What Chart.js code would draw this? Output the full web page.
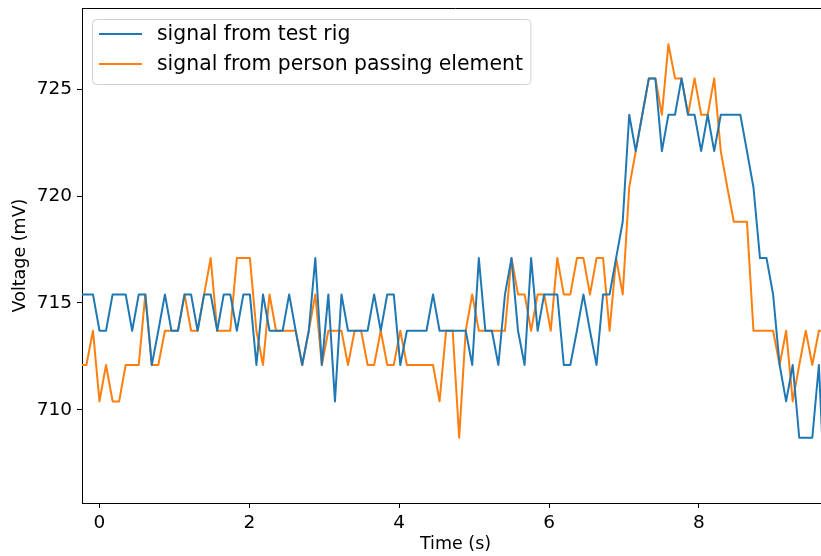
<!DOCTYPE html>
<html><head><meta charset="utf-8">
<script src="https://cdn.jsdelivr.net/npm/chart.js@4.4.1/dist/chart.umd.min.js"></script>
<style>html,body{margin:0;padding:0;background:#fff;overflow:hidden;width:821px;height:556px}canvas{display:block}</style>
</head><body>
<canvas id="c" width="830" height="556"></canvas>
<script>
// sample times (s)
const timeSeconds = [
 -0.262,-0.175,-0.087,0,0.087,0.175,0.262,0.349,0.436,0.524,
 0.611,0.698,0.785,0.873,0.960,1.047,1.135,1.222,1.309,1.396,
 1.484,1.571,1.658,1.745,1.833,1.920,2.007,2.094,2.182,2.269,
 2.356,2.444,2.531,2.618,2.705,2.793,2.880,2.967,3.054,3.142,
 3.229,3.316,3.404,3.491,3.578,3.665,3.753,3.840,3.927,4.014,
 4.102,4.189,4.276,4.364,4.451,4.538,4.625,4.713,4.800,4.887,
 4.974,5.062,5.149,5.236,5.323,5.411,5.498,5.585,5.673,5.760,
 5.847,5.934,6.022,6.109,6.196,6.283,6.371,6.458,6.545,6.633,
 6.720,6.807,6.894,6.982,7.069,7.156,7.243,7.331,7.418,7.505,
 7.592,7.680,7.767,7.854,7.941,8.029,8.116,8.203,8.291,8.378,
 8.465,8.552,8.640,8.727,8.814,8.901,8.989,9.076,9.163,9.251,
 9.338,9.425,9.512,9.600,9.687];

// signal from test rig (mV)
const testRigMv = [
 715.4,715.4,715.4,
 713.7,713.7,715.4,715.4,715.4,713.7,715.4,715.4,712.1,713.7,
 715.4,713.7,713.7,715.4,715.4,713.7,715.4,715.4,713.7,715.4,
 715.4,713.7,715.4,715.4,712.1,715.4,713.7,713.7,713.7,715.4,
 713.7,712.1,713.7,717.1,712.1,715.4,710.4,715.4,713.7,713.7,
 713.7,713.7,715.4,713.7,715.4,715.4,712.1,713.7,713.7,713.7,
 713.7,715.4,713.7,713.7,713.7,713.7,713.7,712.1,717.1,713.7,
 713.7,712.1,715.4,717.1,713.7,712.1,717.1,713.7,715.4,715.4,
 715.4,712.1,712.1,713.7,715.4,713.7,712.1,715.4,715.4,717.1,
 718.8,723.8,722.1,723.8,725.5,725.5,722.1,723.8,723.8,725.5,
 723.8,723.8,722.1,723.8,722.1,723.8,723.8,723.8,723.8,722.1,
 720.4,717.1,717.1,715.4,712.1,710.4,712.1,708.7,708.7,708.7,
 712.1,705.4];

// signal from person passing element (mV)
const personPassingMv = [
 712.1,712.1,713.7,
 710.4,712.1,710.4,710.4,712.1,712.1,712.1,715.4,712.1,712.1,
 713.7,713.7,713.7,715.4,713.7,713.7,715.4,717.1,713.7,713.7,
 713.7,717.1,717.1,717.1,713.7,712.1,715.4,713.7,713.7,713.7,
 713.7,712.1,713.7,715.4,712.1,713.7,713.7,713.7,712.1,713.7,
 713.7,712.1,712.1,713.7,712.1,712.1,713.7,712.1,712.1,712.1,
 712.1,712.1,710.4,713.7,713.7,708.7,713.7,715.4,713.7,713.7,
 713.7,713.7,713.7,717.1,715.4,715.4,713.7,715.4,715.4,713.7,
 717.1,715.4,715.4,717.1,717.1,715.4,717.1,717.1,713.7,717.1,
 715.4,720.4,722.1,723.8,725.5,725.5,723.8,727.1,725.5,725.5,
 723.8,725.5,723.8,723.8,725.5,722.1,720.4,718.8,718.8,718.8,
 713.7,713.7,713.7,713.7,712.1,713.7,710.4,712.1,713.7,712.1,
 713.7,713.7];

const seriesLabels = ['signal from test rig', 'signal from person passing element'];
const seriesColors = ['#1f77b4', '#ff7f0e'];
const xTickValues = [0, 2, 4, 6, 8];
const yTickValues = [710, 715, 720, 725];
const xRange = [-0.2335, 9.735];
const yRange = [705.65, 728.79];

const FONT = 'DejaVu Sans';

const framePlugin = {
  id: 'topFrame',
  afterDatasetsDraw(chart) {
    const {ctx, chartArea: a} = chart;
    ctx.save();
    ctx.strokeStyle = '#000';
    ctx.lineWidth = 1;
    ctx.beginPath();
    ctx.moveTo(a.left, Math.round(a.top) + 0.5);
    ctx.lineTo(a.right, Math.round(a.top) + 0.5);
    ctx.stroke();
    ctx.restore();
  }
};

const legendPlugin = {
  id: 'boxLegend',
  afterDraw(chart) {
    const ctx = chart.ctx;
    const ds = chart.data.datasets;
    ctx.save();
    ctx.font = '20.4px "' + FONT + '"';
    const bx = 92.5, by = 19.5;
    const textX = 157;
    let maxW = 0;
    ds.forEach(d => { maxW = Math.max(maxW, ctx.measureText(d.label).width); });
    const bw = textX + maxW + 8 - bx, bh = 65;
    const r = 4;
    ctx.beginPath();
    ctx.moveTo(bx + r, by);
    ctx.lineTo(bx + bw - r, by);
    ctx.arcTo(bx + bw, by, bx + bw, by + r, r);
    ctx.lineTo(bx + bw, by + bh - r);
    ctx.arcTo(bx + bw, by + bh, bx + bw - r, by + bh, r);
    ctx.lineTo(bx + r, by + bh);
    ctx.arcTo(bx, by + bh, bx, by + bh - r, r);
    ctx.lineTo(bx, by + r);
    ctx.arcTo(bx, by, bx + r, by, r);
    ctx.closePath();
    ctx.fillStyle = 'rgba(255,255,255,0.8)';
    ctx.fill();
    ctx.strokeStyle = '#d0d0d0';
    ctx.lineWidth = 1;
    ctx.stroke();
    const rows = [34, 64];
    ds.forEach((d, i) => {
      ctx.strokeStyle = d.borderColor;
      ctx.lineWidth = 2;
      ctx.beginPath();
      ctx.moveTo(99, rows[i]);
      ctx.lineTo(142, rows[i]);
      ctx.stroke();
      ctx.fillStyle = '#000';
      ctx.textBaseline = 'middle';
      ctx.textAlign = 'left';
      ctx.fillText(d.label, textX, rows[i] + 1);
    });
    ctx.restore();
  }
};

const mk = (vals, i) => ({
  label: seriesLabels[i],
  data: timeSeconds.map((t, k) => ({x: t, y: vals[k]})),
  borderColor: seriesColors[i],
  backgroundColor: seriesColors[i],
  borderWidth: 2,
  pointRadius: 0,
  tension: 0,
  fill: false,
  borderJoinStyle: 'round'
});

const axisCommon = {
  grid: {display: true, drawOnChartArea: false, drawTicks: true, tickLength: 5, color: '#000', lineWidth: 1},
  border: {display: true, color: '#000', width: 1},
};

new Chart(document.getElementById('c'), {
  type: 'line',
  data: {datasets: [mk(testRigMv, 0), mk(personPassingMv, 1)]},
  options: {
    responsive: false,
    animation: false,
    layout: {padding: {top: 8, right: 1, left: 0, bottom: 0}},
    plugins: {legend: {display: false}, tooltip: {enabled: false}},
    scales: {
      x: {
        type: 'linear', min: xRange[0], max: xRange[1],
        afterBuildTicks: s => { s.ticks = xTickValues.map(v => ({value: v})); },
        afterFit: s => { s.height = 53; s.paddingLeft = 0; s.paddingRight = 0; },
        ...axisCommon,
        ticks: {color: '#000', font: {family: FONT, size: 18.5}, padding: 4, maxRotation: 0, autoSkip: false},
        title: {display: true, text: 'Time (s)', color: '#000', font: {family: FONT, size: 17.5}, padding: {top: 0, bottom: 1}}
      },
      y: {
        type: 'linear', min: yRange[0], max: yRange[1],
        afterBuildTicks: s => { s.ticks = yTickValues.map(v => ({value: v})); },
        afterFit: s => { s.width = 82; s.paddingTop = 0; s.paddingBottom = 0; },
        ...axisCommon,
        ticks: {color: '#000', font: {family: FONT, size: 18.5}, padding: 5, autoSkip: false},
        title: {display: true, text: 'Voltage (mV)', color: '#000', font: {family: FONT, size: 17.5}, padding: {top: 10, bottom: 0}}
      }
    }
  },
  plugins: [framePlugin, legendPlugin]
});
</script>
</body></html>
